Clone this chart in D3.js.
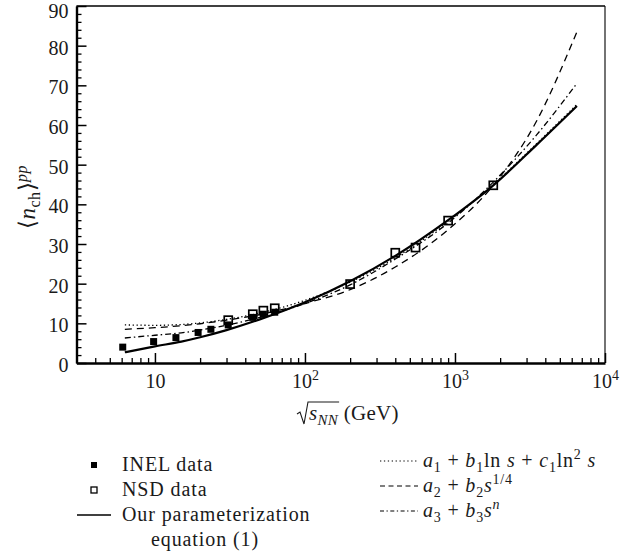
<!DOCTYPE html>
<html>
<head>
<meta charset="utf-8">
<script src="https://cdn.jsdelivr.net/npm/d3@7"></script>
<style>
  html, body { margin: 0; padding: 0; background: #fff; }
  svg { display: block; font-family: "Liberation Serif", "Times New Roman", serif; }
</style>
</head>
<body>
<svg id="chart" width="628" height="558"></svg>
<script>
// ---- measured data: mean charged multiplicity in pp collisions ----
const inelEnergy = [6.1, 9.8, 13.8, 19.4, 23.6, 30.8, 44.9, 52.8, 62.9];
const inelMult   = [4.0, 5.4, 6.4, 7.7, 8.5, 9.6, 11.5, 12.3, 12.8];

const nsdEnergy = [30.8, 44.9, 52.8, 62.9, 200, 400, 546, 900, 1800];
const nsdMult   = [10.8, 12.3, 13.2, 13.8, 19.9, 27.8, 29.1, 35.9, 44.8];

// ---- fitted curves, sampled at these energies ----
const curveEnergy   = [6.3, 10, 15, 20, 30, 50, 100, 200, 400, 900, 1800, 3500, 6500];
const ourParam      = [2.7, 4.2, 5.4, 6.5, 8.3, 11.0, 15.3, 20.6, 27.0, 36.0, 44.8, 55.0, 64.8];
const logQuadFit    = [9.6, 9.5, 9.7, 10.1, 11.0, 12.6, 15.8, 20.4, 26.5, 35.7, 45.0, 55.3, 65.2];
const quarterPowFit = [8.5, 8.9, 9.4, 9.9, 10.8, 12.2, 15.0, 18.5, 24.2, 33.6, 44.8, 61.0, 83.5];
const powerFit      = [6.3, 7.0, 7.6, 8.3, 9.5, 11.5, 15.0, 19.7, 26.2, 35.3, 45.6, 57.5, 70.5];

// ---- axis ticks ----
const yMajorTicks = [0, 10, 20, 30, 40, 50, 60, 70, 80, 90];
const xMajorTicks = [10, 100, 1000, 10000];
const xTickBase = ["10", "10", "10", "10"];
const xTickExp  = ["", "2", "3", "4"];

const plot = { left: 76.5, right: 605, top: 6, bottom: 363 };
const FONT = 20;
const INK = "#1a1a1a";

const svg = d3.select("#chart");

const x = d3.scaleLog().domain([3, 1e4]).range([plot.left, plot.right]);
const y = d3.scaleLinear().domain([0, 90]).range([plot.bottom, plot.top]);

// frame (top and right sides)
svg.append("line")
  .attr("x1", plot.left).attr("x2", plot.right)
  .attr("y1", plot.top).attr("y2", plot.top)
  .attr("stroke", "#000").attr("stroke-width", 1.3);
svg.append("line")
  .attr("x1", plot.right).attr("x2", plot.right)
  .attr("y1", plot.top).attr("y2", plot.bottom)
  .attr("stroke", "#000").attr("stroke-width", 1.1);

// y axis: major + minor ticks pointing inwards
const yMinor = d3.range(0, 91, 2).filter(v => v % 10 !== 0);
const gyMinor = svg.append("g").attr("transform", `translate(${plot.left},0)`)
  .call(d3.axisLeft(y).tickValues(yMinor).tickSize(-5).tickSizeOuter(0).tickFormat(""));
gyMinor.select(".domain").remove();
gyMinor.selectAll(".tick line").attr("stroke-width", 1.3);

const gy = svg.append("g").attr("transform", `translate(${plot.left},0)`)
  .call(d3.axisLeft(y).tickValues(yMajorTicks).tickSize(-10).tickSizeOuter(0).tickPadding(8)
    .tickFormat(d3.format("d")));
gy.select(".domain").attr("stroke-width", 2.4);
gy.selectAll(".tick line").attr("stroke-width", 1.5);
gy.selectAll(".tick text")
  .attr("font-family", "Liberation Serif, serif").attr("font-size", FONT).attr("fill", INK)
  .attr("dy", d => (d === 90 ? "0.58em" : "0.42em"));   // top label kept inside the page

// x axis: log decades, minor ticks 2..9 in each decade
const xMinor = [];
[1, 10, 100, 1000].forEach(dec => {
  for (let k = 2; k <= 9; k++) {
    const v = k * dec;
    if (v > 3 && v < 1e4) xMinor.push(v);
  }
});
const gxMinor = svg.append("g").attr("transform", `translate(0,${plot.bottom})`)
  .call(d3.axisBottom(x).tickValues(xMinor).tickSize(-5).tickSizeOuter(0).tickFormat(""));
gxMinor.select(".domain").remove();
gxMinor.selectAll(".tick line").attr("stroke-width", 1.3);

const gx = svg.append("g").attr("transform", `translate(0,${plot.bottom})`)
  .call(d3.axisBottom(x).tickValues(xMajorTicks).tickSize(-10).tickSizeOuter(0).tickPadding(11)
    .tickFormat(""));
gx.select(".domain").attr("stroke-width", 2.4);
gx.selectAll(".tick line").attr("stroke-width", 1.5);
gx.selectAll(".tick text").each(function (d, i) {
  const t = d3.select(this)
    .attr("font-family", "Liberation Serif, serif").attr("font-size", FONT).attr("fill", INK);
  t.text(null);
  t.append("tspan").text(xTickBase[i]);
  if (xTickExp[i]) {
    t.append("tspan").attr("dy", -8).attr("font-size", 14).text(xTickExp[i]);
  }
});

// ---- curves ----
const line = d3.line()
  .x(d => x(d[0]))
  .y(d => y(d[1]))
  .curve(d3.curveMonotoneX);

const curves = [
  { values: logQuadFit,    width: 1.3, dash: "1.3,2.6" },
  { values: quarterPowFit, width: 1.3, dash: "7,5" },
  { values: powerFit,      width: 1.3, dash: "6,3,1.5,3" },
  { values: ourParam,      width: 2.2, dash: null }
];
curves.forEach(c => {
  svg.append("path")
    .datum(curveEnergy.map((e, i) => [e, c.values[i]]))
    .attr("d", line)
    .attr("fill", "none")
    .attr("stroke", "#000")
    .attr("stroke-width", c.width)
    .attr("stroke-dasharray", c.dash);
});

// ---- data points ----
const inelSize = 7, nsdSize = 8;
svg.append("g").selectAll("rect")
  .data(inelEnergy.map((e, i) => [e, inelMult[i]]))
  .join("rect")
  .attr("x", d => x(d[0]) - inelSize / 2)
  .attr("y", d => y(d[1]) - inelSize / 2)
  .attr("width", inelSize).attr("height", inelSize)
  .attr("fill", "#000");

svg.append("g").selectAll("rect")
  .data(nsdEnergy.map((e, i) => [e, nsdMult[i]]))
  .join("rect")
  .attr("x", d => x(d[0]) - nsdSize / 2)
  .attr("y", d => y(d[1]) - nsdSize / 2)
  .attr("width", nsdSize).attr("height", nsdSize)
  .attr("fill", "none").attr("stroke", "#000").attr("stroke-width", 1.7);

// ---- rich text helper: parts = [{t, it, sub, sup}] ----
function richText(parent, px, py, parts, opts) {
  const o = opts || {};
  const t = parent.append("text")
    .attr("x", px).attr("y", py)
    .attr("font-size", o.size || FONT).attr("fill", INK)
    .attr("letter-spacing", o.spacing || 0)
    .attr("text-anchor", o.anchor || "start");
  const small = o.small || 14;
  let shift = 0;
  parts.forEach(p => {
    const target = p.sub ? 5 : p.sup ? -8 : 0;
    const ts = t.append("tspan").text(p.t).attr("dy", target - shift);
    shift = target;
    if (p.it) ts.attr("font-style", "italic");
    if (p.sub || p.sup) ts.attr("font-size", small);
  });
  return t;
}

// y-axis title  <n_ch>^pp
const yTitle = svg.append("g").attr("transform", "translate(35,197) rotate(-90)");
richText(yTitle, 0, 0, [
  { t: "\u27E8" },
  { t: "n", it: true },
  { t: "ch", sub: true },
  { t: "\u27E9" },
  { t: "pp", sup: true, it: true }
], { anchor: "middle", size: 23, small: 16, spacing: 0.5 });

// x-axis title  sqrt(s_NN) (GeV)
const xTitleX = 309, xTitleY = 420;
const xt = richText(svg, xTitleX, xTitleY, [
  { t: "s", it: true },
  { t: "NN", sub: true, it: true },
  { t: " (GeV)" }
], { size: 21, small: 15, spacing: 0.3 });
// radical sign over s_NN
{
  const node = xt.node();
  const endNN = node.getExtentOfChar(2);
  const rx0 = xTitleX - 12;
  const top = xTitleY - 18;
  const right = endNN.x + endNN.width + 1;
  svg.append("path")
    .attr("d", `M${rx0},${xTitleY - 6} L${rx0 + 3},${xTitleY - 8} L${rx0 + 7},${xTitleY + 4} L${rx0 + 11},${top} L${right},${top}`)
    .attr("fill", "none").attr("stroke", INK).attr("stroke-width", 1.1);
}

// ---- legend ----
const legend = svg.append("g");
const legLeftX = 122, legMarkX = 94;
const legRows = [471, 496, 521, 546];
const legOpts = { spacing: 0.9 };

legend.append("rect").attr("x", legMarkX - 3).attr("y", legRows[0] - 9)
  .attr("width", 6).attr("height", 6).attr("fill", "#000");
richText(legend, legLeftX, legRows[0], [{ t: "INEL data" }], legOpts);

legend.append("rect").attr("x", legMarkX - 3).attr("y", legRows[1] - 9)
  .attr("width", 6).attr("height", 6).attr("fill", "none")
  .attr("stroke", "#000").attr("stroke-width", 1.3);
richText(legend, legLeftX, legRows[1], [{ t: "NSD data" }], legOpts);

legend.append("line").attr("x1", 77).attr("x2", 111)
  .attr("y1", legRows[2] - 6).attr("y2", legRows[2] - 6)
  .attr("stroke", "#000").attr("stroke-width", 1.3);
richText(legend, legLeftX, legRows[2], [{ t: "Our parameterization" }], legOpts);
richText(legend, 151, legRows[3], [{ t: "equation (1)" }], legOpts);

const legRightX = 423, legLineX0 = 380, legLineX1 = 418;
const legRightRows = [467, 492, 517];
const legRightDash = ["1.3,2.6", "5,3.5", "4,2.5,1.3,2.5"];
const legRightParts = [
  [{ t: "a", it: true }, { t: "1", sub: true }, { t: " + " }, { t: "b", it: true }, { t: "1", sub: true },
   { t: "ln " }, { t: "s", it: true }, { t: " + " }, { t: "c", it: true }, { t: "1", sub: true },
   { t: "ln" }, { t: "2", sup: true }, { t: " s", it: true }],
  [{ t: "a", it: true }, { t: "2", sub: true }, { t: " + " }, { t: "b", it: true }, { t: "2", sub: true },
   { t: "s", it: true }, { t: "1/4", sup: true }],
  [{ t: "a", it: true }, { t: "3", sub: true }, { t: " + " }, { t: "b", it: true }, { t: "3", sub: true },
   { t: "s", it: true }, { t: "n", sup: true, it: true }]
];
legRightRows.forEach((ry, i) => {
  legend.append("line").attr("x1", legLineX0).attr("x2", legLineX1)
    .attr("y1", ry - 6).attr("y2", ry - 6)
    .attr("stroke", "#000").attr("stroke-width", 1.2)
    .attr("stroke-dasharray", legRightDash[i]);
  richText(legend, legRightX, ry, legRightParts[i], { spacing: 0.8 });
});
</script>
</body>
</html>
